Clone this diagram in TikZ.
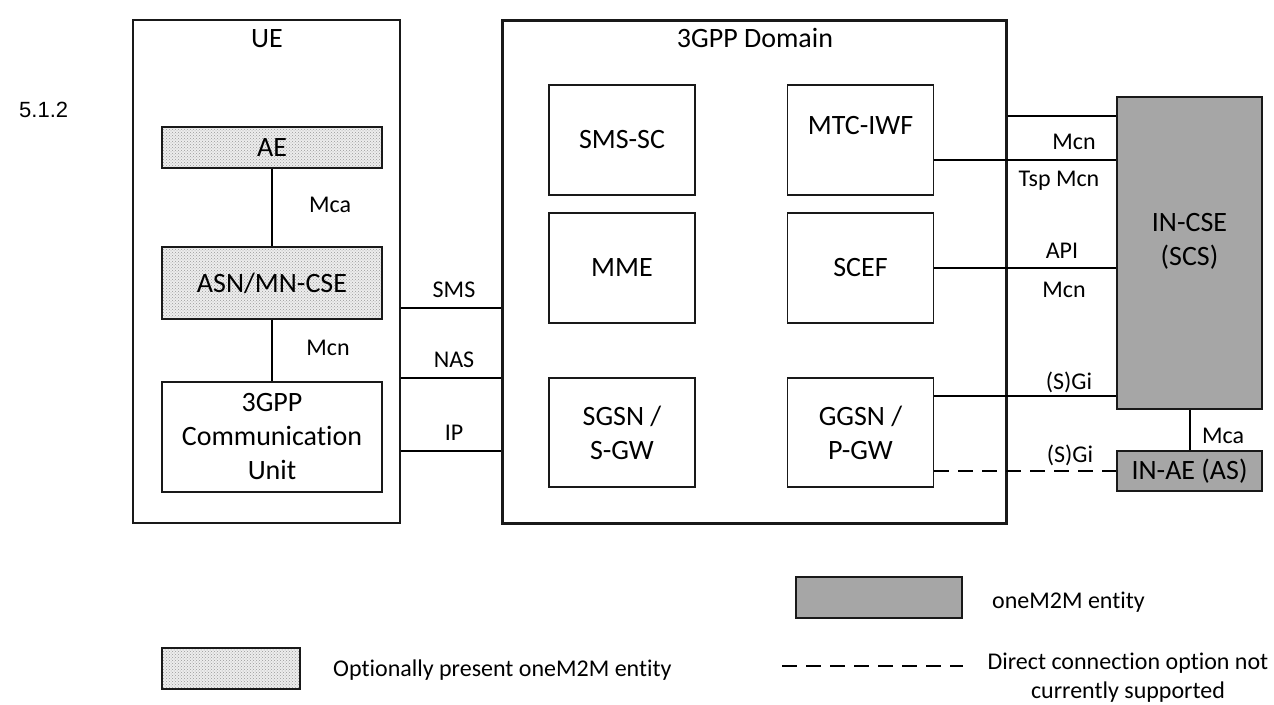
\documentclass[tikz,border=0pt]{standalone}
\usepackage{fontspec}
\setmainfont{Carlito}[Ligatures=NoCommon]
\newfontfamily\arialfont{Liberation Sans}
\usepackage{tikz}
\usetikzlibrary{patterns}

\tikzset{
  entity/.style={draw=black!90, line width=1.3pt, minimum width=146pt, minimum height=110pt,
    inner sep=0pt, align=center, font=\fontsize{28}{34}\selectfont},
  optentity/.style={entity, preaction={fill=black!7}, pattern=crosshatch dots, pattern color=black!40},
  m2mentity/.style={entity, fill=black!35},
  link/.style={line width=1.6pt},
  nolink/.style={link, dash pattern=on 15pt off 9pt},
  title/.style={font=\fontsize{28}{34}\selectfont, inner sep=0pt},
  lbl/.style={font=\fontsize{24}{29}\selectfont, inner sep=0pt},
}

\begin{document}
\begin{tikzpicture}[x=1pt,y=-1pt]
    \fill[white] (0,0) rectangle (1274,704);
    \useasboundingbox (0,0) rectangle (1274,704);

    \node[font=\arialfont\fontsize{22}{26}\selectfont, anchor=west, inner sep=0pt] (clause) at (19,110) {5.1.2};

    % UE
    \node[entity, minimum width=267pt, minimum height=503pt] (ue) at (266.5,271.5) {};
    \node[title] (uetitle) at (267,39) {UE};
    \node[optentity, minimum width=220pt, minimum height=41pt] (ae) at (272,147.5) {AE};
    \node[optentity, minimum width=220pt, minimum height=72pt] (asn) at (272,283) {ASN/MN-CSE};
    \node[entity, minimum width=220pt] (cu) at (272,437) {3GPP\\Communication\\Unit};
    \draw[link] (ae) -- (asn);
    \draw[link] (asn) -- (cu);
    \node[lbl] (mcaue) at (330,205) {Mca};
    \node[lbl] (mcnue) at (328,348) {Mcn};

    % 3GPP domain
    \node[entity, line width=3pt, minimum width=504pt, minimum height=503pt] (dom) at (754,271.5) {};
    \node[title] (domtitle) at (755,38) {3GPP Domain};
    \node[entity] (smssc) at (622,140) {SMS-SC};
    \node[entity, text depth=30pt] (mtciwf) at (860.5,140) {MTC-IWF};
    \node[entity] (mme) at (622,268) {MME};
    \node[entity] (scef) at (860.5,268) {SCEF};
    \node[entity, minimum height=109pt] (sgsn) at (622,432.5) {SGSN /\\S-GW};
    \node[entity, minimum height=109pt] (ggsn) at (860.5,432.5) {GGSN /\\P-GW};

    % UE <-> domain
    \draw[link] (ue.east |- 0,308) -- (dom.west |- 0,308);
    \draw[link] (ue.east |- 0,378) -- (dom.west |- 0,378);
    \draw[link] (ue.east |- 0,451) -- (dom.west |- 0,451);
    \node[lbl] (sms) at (454,290) {SMS};
    \node[lbl] (nas) at (454,360) {NAS};
    \node[lbl] (ip) at (454,433) {IP};

    % infrastructure
    \node[m2mentity, minimum width=145pt, minimum height=312pt, text depth=28pt] (incse) at (1189.5,253) {IN-CSE\\(SCS)};
    \node[m2mentity, minimum width=145pt, minimum height=40pt] (inae) at (1189.5,471) {IN-AE (AS)};
    \draw[link] (incse.south -| 1190,0) -- (inae.north -| 1190,0);
    \node[lbl] (mcain) at (1223,436) {Mca};

    \draw[link] (dom.east |- 0,116) -- (incse.west |- 0,116);
    \draw[link] (mtciwf.east |- 0,160) -- (incse.west |- 0,160);
    \draw[link] (scef.east |- 0,268) -- (incse.west |- 0,268);
    \draw[link] (ggsn.east |- 0,396) -- (incse.west |- 0,396);
    \draw[nolink] (ggsn.east |- inae.west) -- (inae.west);
    \node[lbl] (mcnA) at (1074,142) {Mcn};
    \node[lbl] (tsp) at (1059,181) {Tsp Mcn};
    \node[lbl] (api) at (1062,251) {API};
    \node[lbl] (mcnB) at (1064,290) {Mcn};
    \node[lbl] (sgiA) at (1069,382) {(S)Gi};
    \node[lbl] (sgiB) at (1070,455) {(S)Gi};

    % key
    \node[m2mentity, minimum width=166pt, minimum height=41pt] (keym2m) at (879,597.5) {};
    \node[lbl, anchor=west] (keym2mtext) at (992,602) {oneM2M entity};
    \node[optentity, minimum width=138pt, minimum height=41pt] (keyopt) at (231,668.5) {};
    \node[lbl, anchor=west] (keyopttext) at (333,670) {Optionally present oneM2M entity};
    \coordinate (keydashA) at (782,666);
    \coordinate (keydashB) at (963,666);
    \draw[nolink] (keydashA) -- (keydashB);
    \node[lbl, align=center] (keydashtext) at (1128,678) {Direct connection option not\\currently supported};
\end{tikzpicture}
\end{document}
